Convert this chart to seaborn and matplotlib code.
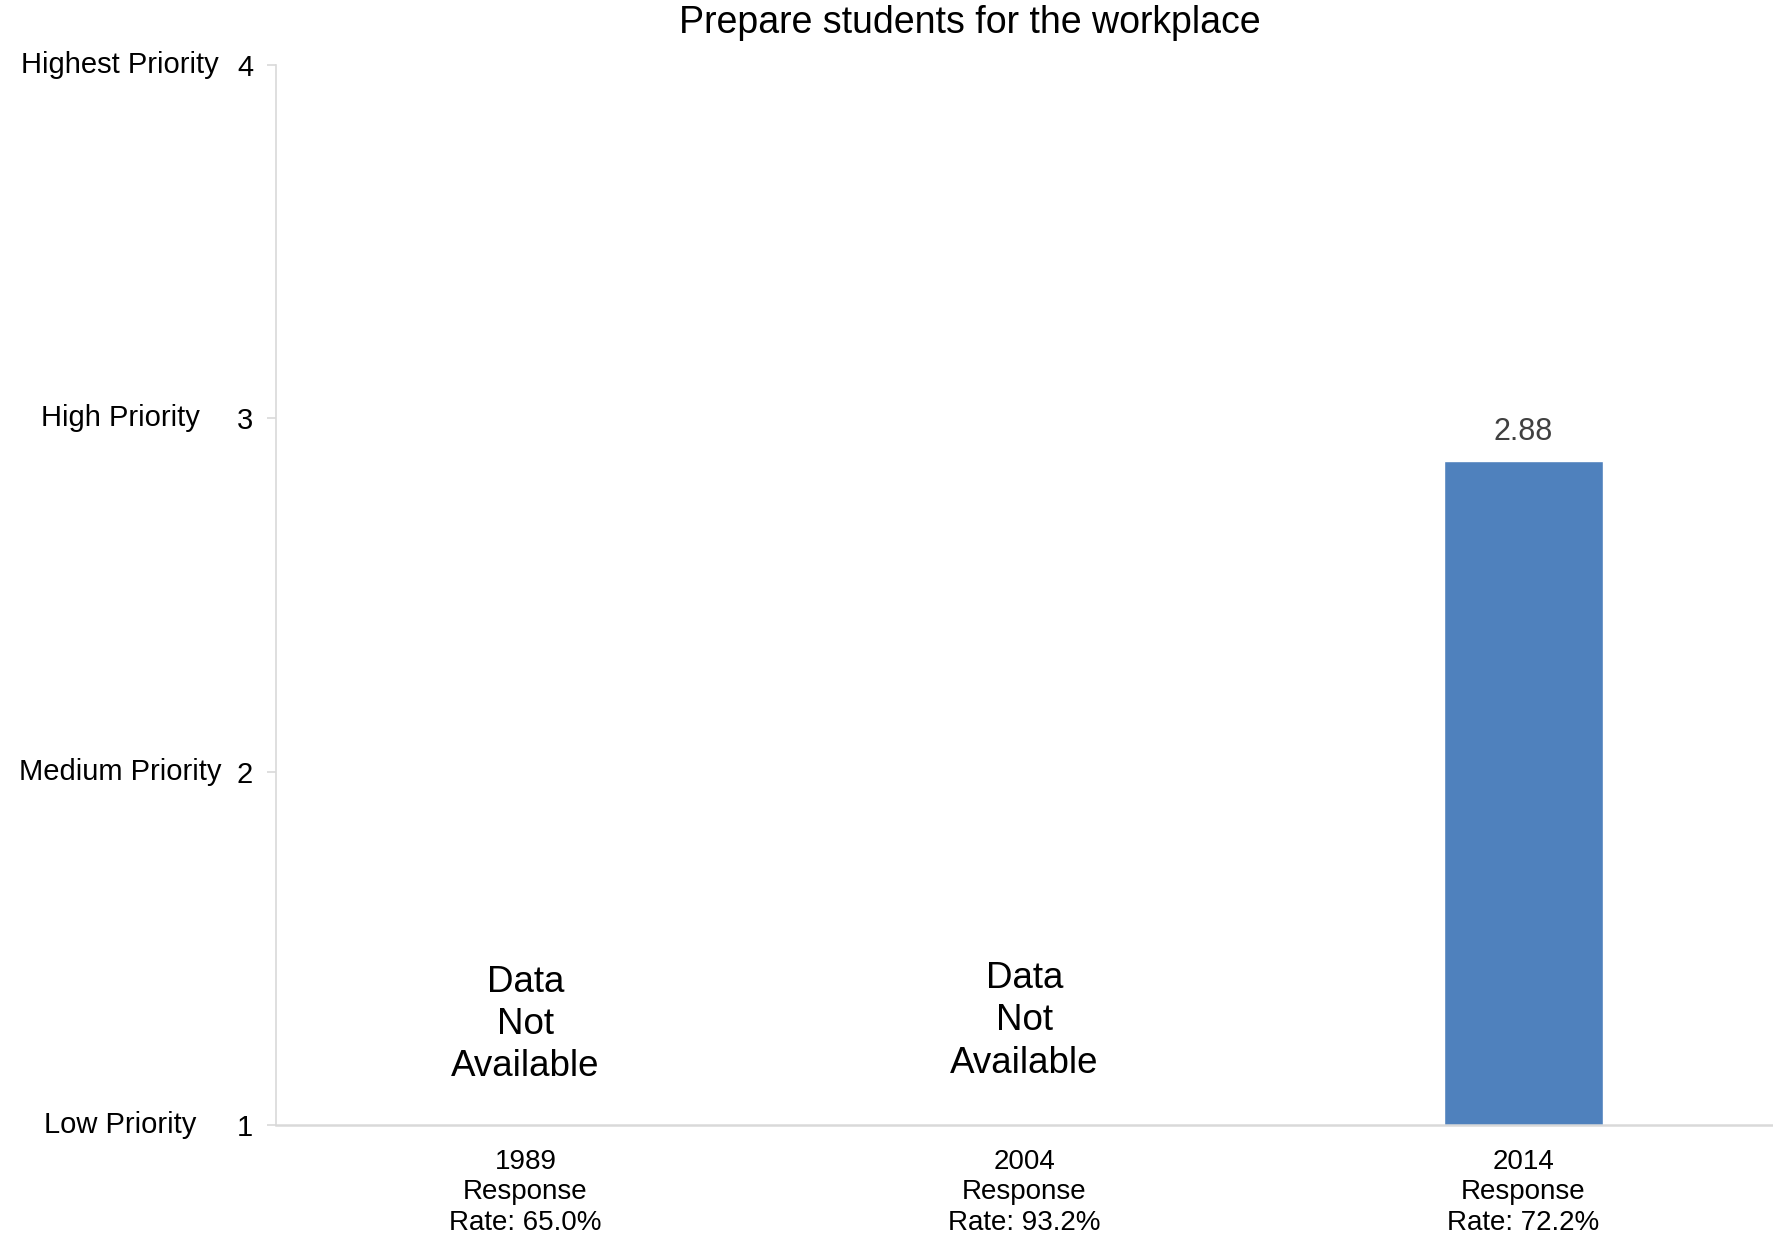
import numpy as np
import pandas as pd
import matplotlib
matplotlib.use('Agg')
import matplotlib.pyplot as plt
import matplotlib.transforms as mtransforms
import seaborn as sns

# data
years = ['1989', '2004', '2014']
response_rates = [65.0, 93.2, 72.2]
scores = [np.nan, np.nan, 2.88]
priority_levels = [1, 2, 3, 4]
priority_names = ['Low Priority', 'Medium Priority', 'High Priority', 'Highest Priority']

BAR_COLOR = '#4f81bd'
GRID_GRAY = '#d9d9d9'

sns.set_theme(style='white')
plt.rcParams['font.family'] = ['Liberation Sans', 'DejaVu Sans']

df = pd.DataFrame({'year': years, 'rate': response_rates, 'score': scores})
df['label'] = [f'{y}\nResponse\nRate: {r:.1f}%' for y, r in zip(df['year'], df['rate'])]

fig = plt.figure(figsize=(17.73, 12.40), dpi=100)
ax = fig.add_axes([276 / 1773, 1 - 1125 / 1240, 1 - 276 / 1773, (1125 - 65) / 1240])

sns.barplot(data=df, x='label', y='score', order=list(df['label']), color=BAR_COLOR,
            saturation=1, width=0.318, ax=ax)

ax.set_ylim(1, 4)
ax.set_xlim(-0.5, 2.5)
ax.set_yticks(priority_levels)
ax.set_yticklabels([str(p) for p in priority_levels], fontsize=21)
ax.set_xlabel('')
ax.set_ylabel('')

for side in ['top', 'right']:
    ax.spines[side].set_visible(False)
ax.spines['left'].set_color(GRID_GRAY)
ax.spines['left'].set_linewidth(1.2)
ax.spines['bottom'].set_color(GRID_GRAY)
ax.spines['bottom'].set_linewidth(1.8)

ax.tick_params(axis='y', left=True, length=6.5, width=1.2, color=GRID_GRAY, pad=10,
               labelcolor='black')
ax.tick_params(axis='x', bottom=False, length=0, pad=17, labelsize=20, labelcolor='black')
for lbl in ax.get_xticklabels():
    lbl.set_linespacing(1.23)

# value label on the bar
for i, v in enumerate(df['score']):
    if np.isnan(v):
        continue
    ax.text(i, v + 0.04, f'{v:.2f}', ha='center', va='bottom', fontsize=22, color='#404040')

# missing-data notes
na_y = [1.285, 1.295]
for i, v in enumerate(df['score']):
    if np.isnan(v):
        ax.text(i, na_y[i], 'Data\nNot\nAvailable', ha='center', va='center',
                fontsize=26.5, color='black', linespacing=1.27)

# priority names to the left of numeric ticks
trans = mtransforms.blended_transform_factory(fig.transFigure, ax.transData)
for lvl, name in zip(priority_levels, priority_names):
    ax.text(120 / 1773, lvl, name, transform=trans, ha='center', va='center',
            fontsize=21, color='black', clip_on=False)

fig.text(970 / 1773, 1 - 22.6 / 1240, 'Prepare students for the workplace',
         ha='center', va='center', fontsize=27, color='black')

fig.savefig('out.png', dpi=100, facecolor='white')
